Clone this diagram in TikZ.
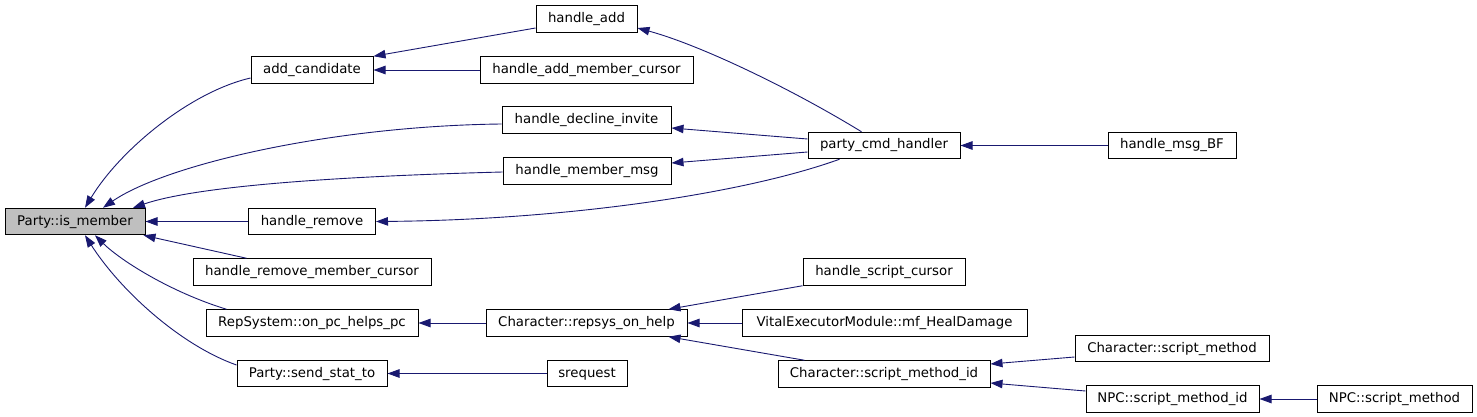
\documentclass[tikz,border=0pt]{standalone}
\usepackage{fontspec}
\setmainfont{DejaVu Sans}
\usetikzlibrary{arrows.meta}
\definecolor{navyc}{HTML}{191970}
\definecolor{grayfill}{HTML}{BFBFBF}
\begin{document}
\begin{tikzpicture}[x=1pt,y=-1pt,
  fn/.style={draw=black, line width=1pt, fill=white, inner sep=0pt,
    minimum height=26.5pt, text height=10pt, text depth=3pt,
    font=\fontsize{13.3}{16}\selectfont},
  edge/.style={draw=navyc, line width=0.9pt,
    -{Triangle[length=12pt,width=8.5pt,fill=navyc]}}]
\useasboundingbox[fill=white] (0,0) rectangle (1477,417);
% nodes
\node[fn, fill=grayfill, minimum width=140pt] (ism) at (75,221.5) {Party::is\_member};
\node[fn, minimum width=122pt] (addc) at (312,70) {add\_candidate};
\node[fn, minimum width=101pt] (ha) at (586.5,19) {handle\_add};
\node[fn, minimum width=213pt] (hamc) at (586.5,70) {handle\_add\_member\_cursor};
\node[fn, minimum width=169pt] (hdi) at (586.5,120) {handle\_decline\_invite};
\node[fn, minimum width=168pt] (hmm) at (587,171) {handle\_member\_msg};
\node[fn, minimum width=127pt] (hr) at (312,221.5) {handle\_remove};
\node[fn, minimum width=238pt] (hrmc) at (312,272) {handle\_remove\_member\_cursor};
\node[fn, minimum width=212pt] (rep) at (312,323) {RepSystem::on\_pc\_helps\_pc};
\node[fn, minimum width=150pt] (sst) at (312,373.5) {Party::send\_stat\_to};
\node[fn, minimum width=152pt] (pch) at (884,145.5) {party\_cmd\_handler};
\node[fn, minimum width=128pt] (hbf) at (1172,145.5) {handle\_msg\_BF};
\node[fn, minimum width=80pt] (sreq) at (587,373.5) {srequest};
\node[fn, minimum width=201pt] (rsoh) at (586.5,323) {Character::repsys\_on\_help};
\node[fn, minimum width=162pt] (hsc) at (884,272) {handle\_script\_cursor};
\node[fn, minimum width=285pt] (vem) at (884.5,323) {VitalExecutorModule::mf\_HealDamage};
\node[fn, minimum width=212pt] (csmi) at (884,374) {Character::script\_method\_id};
\node[fn, minimum width=194pt] (csm) at (1172,348.5) {Character::script\_method};
\node[fn, minimum width=173pt] (nsmi) at (1172.5,399) {NPC::script\_method\_id};
\node[fn, minimum width=155pt] (nsm) at (1394.5,399) {NPC::script\_method};
% edges into Party::is_member
\draw[edge] ([yshift=-8pt]addc.west) .. controls (190,92) and (120,150) .. ([xshift=10pt]ism.north);
\draw[edge] ([yshift=-4pt]hdi.west) .. controls (330,126) and (165,165) .. ([xshift=28pt]ism.north);
\draw[edge] ([yshift=-1pt]hmm.west) .. controls (350,176) and (200,185) .. ([xshift=58pt]ism.north);
\draw[edge] (hr.west) -- (ism.east);
\draw[edge] ([xshift=54pt]hrmc.north west) .. controls (200,248) .. ([xshift=-2pt]ism.south east);
\draw[edge] ([xshift=21pt]rep.north west) .. controls (170,292) and (120,260) .. ([xshift=20pt]ism.south);
\draw[edge] ([yshift=8.5pt]sst.west) .. controls (180,345) and (120,290) .. ([xshift=10pt]ism.south);
% add_candidate
\draw[edge] ([yshift=-9pt]ha.west) -- (addc.north east);
\draw[edge] (hamc.west) -- (addc.east);
% party_cmd_handler
\draw[edge] ([xshift=54pt]pch.north west) .. controls (790,88) and (700,45) .. ([yshift=-9pt]ha.east);
\draw[edge] ([yshift=6.5pt]pch.west) -- ([yshift=-8pt]hdi.east);
\draw[edge] ([yshift=-6.5pt]pch.west) -- ([yshift=8pt]hmm.east);
\draw[edge] ([xshift=32pt]pch.south west) .. controls (740,195) and (560,220) .. (hr.east);
\draw[edge] (hbf.west) -- (pch.east);
% lower part
\draw[edge] (rsoh.west) -- (rep.east);
\draw[edge] (sreq.west) -- (sst.east);
\draw[edge] (hsc.south west) -- ([xshift=-19pt]rsoh.north east);
\draw[edge] (vem.west) -- (rsoh.east);
\draw[edge] ([xshift=27pt]csmi.north west) -- ([xshift=-19pt]rsoh.south east);
\draw[edge] ([yshift=-8.5pt]csm.west) -- ([yshift=10pt]csmi.east);
\draw[edge] ([yshift=8pt]nsmi.west) -- ([yshift=-9pt]csmi.east);
\draw[edge] (nsm.west) -- (nsmi.east);
\end{tikzpicture}
\end{document}
